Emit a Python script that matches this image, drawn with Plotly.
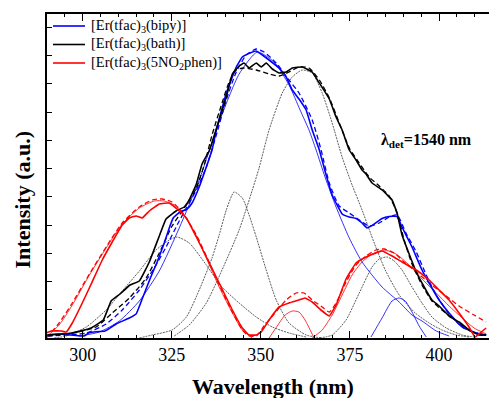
import plotly.graph_objects as go

# ---------------- data (wavelength in nm, intensity in a.u.) ----------------
# [Er(tfac)3(bipy)] - experimental
bipy_x = [290.1, 293.4, 300.4, 301.9, 306.3, 309.4, 313.1, 315.0, 316.7, 319.0, 320.9, 322.9, 324.3, 325.4,
          327.1, 329.3, 330.7, 332.7, 334.7, 336.3, 337.5, 340.3, 343.1, 344.8, 347.3, 348.7, 350.4, 352.3,
          355.1, 357.1, 358.8, 360.7, 362.7, 364.4, 366.4, 368.3, 370.0, 371.1, 372.8, 374.8, 376.7, 378.4,
          379.8, 381.8, 384.0, 386.0, 388.2, 389.6, 392.4, 395.2, 397.2, 400.0, 402.8, 406.5, 410.4, 413.2]
bipy_y = [3, 4, 2, 5.5, 7, 14, 20, 24, 39, 60, 76, 95, 110, 120,
          125.5, 129, 135, 151, 171, 188, 208, 245, 271, 281, 285.5, 287, 283, 278,
          270, 261, 248, 239, 228, 208, 188, 163, 143, 135, 124, 121, 119.5, 115,
          110, 114, 119.5, 121.5, 121.5, 111, 91, 68, 55, 38, 25, 11, 5, 3]
# bipy - fit
bipy_fit_x = [290.1, 301.0, 306.6, 311.1, 315.9, 320.1, 323.4, 327.1, 329.1, 331.9, 334.7, 337.5, 340.3, 343.1,
              345.9, 348.7, 350.9, 354.3, 357.9, 360.7, 364.4, 366.9, 369.2, 372.0, 374.8, 377.6, 380.4, 383.2,
              386.0, 388.2, 390.7, 393.6, 396.4, 399.2, 402.8, 406.5, 410.4, 413.2]
bipy_fit_y = [2, 5, 14, 28, 48, 70, 91, 117, 130, 148, 171, 203, 238, 266,
              283, 289, 286, 275, 258, 245, 218, 188, 155, 132, 125, 118, 112, 115,
              121, 123, 105, 86, 63, 43, 24, 11, 5, 3]
# bipy - components
bipy_c1_x = [299.0, 304.7, 310.3, 315.9, 321.5, 327.1, 332.7, 338.3, 343.9, 349.0, 353.7, 357.9, 361.0, 363.5,
             365.5, 368.0, 371.1, 374.8, 378.4, 384.0, 388.8, 392.4, 395.2, 399.2, 402.8]
bipy_c1_y = [2, 6, 17, 37, 67, 110, 158, 216, 264, 286, 276, 253, 228, 208,
             188, 161, 131, 100, 76, 51, 36, 23, 17, 7, 2]
bipy_c2_x = [380.9, 384.0, 386.8, 388.8, 390.5, 392.4, 394.4, 396.4]
bipy_c2_y = [1, 20, 37, 40, 37, 26, 12, 1]

# [Er(tfac)3(bath)] - experimental
bath_x = [290.1, 297.1, 302.4, 305.8, 308.0, 310.5, 313.3, 315.9, 318.7, 321.5, 323.4, 326.2, 328.5, 329.9,
          331.9, 333.5, 335.5, 338.3, 340.3, 342.0, 343.9, 345.3, 346.7, 348.7, 350.1, 351.5, 353.2, 355.1,
          357.1, 358.8, 361.6, 364.4, 366.4, 369.2, 371.1, 372.8, 374.8, 376.7, 378.4, 379.5, 381.2, 384.0,
          386.8, 388.2, 389.6, 391.6, 393.6, 395.2, 398.0, 400.0, 402.8, 405.6, 408.4, 411.2, 413.2]
bath_y = [3, 5, 10, 18, 37, 44, 53, 57, 76, 102, 119, 127, 131, 138,
          154, 174, 187, 218, 241, 264, 272, 275, 270, 275, 271, 275, 269, 265,
          266, 270, 271, 266, 255, 239, 221, 208, 188, 178, 168, 164, 155, 148,
          138, 125, 103, 84, 66, 55, 38, 32, 22, 16, 8, 3, 3]
# bath - fit
bath_fit_x = [290.1, 297.1, 303.8, 308.3, 313.1, 317.8, 321.5, 325.1, 328.5, 331.9, 334.1, 336.3, 339.1, 341.1,
              343.1, 345.3, 348.7, 352.3, 355.1, 357.9, 360.7, 363.5, 366.4, 369.2, 372.0, 374.8, 377.6, 380.4,
              383.2, 386.0, 388.2, 390.2, 392.4, 395.2, 398.0, 400.8, 403.7, 407.0, 410.4, 413.2]
bath_fit_y = [2, 5, 11, 25, 40, 60, 85, 112, 130, 150, 173, 203, 235, 256,
              268, 270, 268, 264, 262, 266, 271, 270, 258, 240, 215, 190, 175, 161,
              152, 142, 125, 98, 74, 53, 37, 28, 20, 11, 5, 3]
# bath - components
bath_c1_x = [292.0, 295.4, 301.0, 306.6, 311.1, 315.9, 320.6, 324.3, 326.5, 329.9, 334.7, 339.1, 343.9, 348.7,
             353.2, 357.9, 362.7]
bath_c1_y = [0, 2, 11, 28, 47, 67, 88, 98, 101, 95, 73, 51, 35, 21, 11, 5, 1]
bath_c2_x = [315.9, 319.5, 325.1, 329.1, 332.7, 336.3, 338.3, 340.3, 342.5, 344.8, 346.7, 348.7, 351.5, 354.3,
             357.9, 362.7, 367.2]
bath_c2_y = [0, 3, 8, 21, 48, 80, 103, 128, 146, 140, 123, 101, 68, 38, 15, 3, 0]
bath_c3_x = [325.7, 329.9, 334.7, 339.1, 343.9, 347.6, 349.5, 352.3, 356.0, 358.8, 361.6, 364.4, 367.2, 370.0,
             372.8, 375.6, 378.4, 381.8, 384.9, 388.8, 393.3, 397.2, 400.8, 404.8, 408.4]
bath_c3_y = [2, 13, 35, 68, 108, 148, 170, 208, 245, 261, 268, 265, 245, 215,
             181, 153, 128, 95, 68, 43, 25, 15, 8, 3, 1]
bath_c4_x = [366.4, 370.0, 373.9, 377.6, 381.2, 383.2, 385.4, 387.4, 389.6, 392.4, 395.2, 398.0, 402.0, 406.5,
             409.8]
bath_c4_y = [0, 3, 18, 45, 71, 79, 81, 77, 68, 51, 35, 21, 10, 3, 1]

# [Er(tfac)3(5NO2phen)] - experimental
phen_x = [289.8, 291.2, 294.0, 295.4, 297.1, 299.9, 302.4, 305.5, 308.3, 311.1, 313.1, 315.0, 316.7, 318.7,
          321.5, 324.3, 327.1, 329.1, 331.9, 334.7, 338.3, 342.0, 344.8, 346.7, 348.7, 350.1, 352.3, 355.1,
          357.9, 360.7, 362.4, 364.4, 367.2, 369.2, 371.1, 373.9, 376.7, 379.5, 382.3, 384.0, 386.8, 389.6,
          393.6, 397.2, 400.0, 402.8, 405.6, 408.4, 410.1, 411.5, 413.2]
phen_y = [5, 7, 7, 6, 15, 35, 54, 78, 96, 113, 120, 122, 120, 127,
          134, 135, 127, 120, 101, 81, 55, 28, 10, 3, 3, 6, 18, 31,
          35, 38, 40, 36, 27, 22, 33, 59, 75, 81, 85, 87, 82, 76,
          68, 58, 48, 38, 25, 11, 1, 5, 10]
# 5NO2phen - fit
phen_fit_x = [289.8, 293.4, 297.1, 301.9, 306.6, 311.1, 315.9, 319.5, 322.3, 325.1, 327.9, 331.9, 334.7, 338.3,
              342.0, 344.8, 346.7, 348.7, 350.9, 353.7, 357.1, 359.9, 362.1, 364.4, 367.2, 369.2, 371.1, 373.9,
              376.7, 379.5, 382.3, 384.6, 387.4, 390.2, 393.6, 397.2, 402.0, 405.6, 409.8, 413.2]
phen_fit_y = [0, 15, 35, 64, 91, 115, 131, 138, 139, 136, 126, 103, 82, 53,
              26, 8, 2, 2, 12, 24, 38, 45, 45, 38, 31, 26, 35, 56,
              73, 82, 88, 89, 85, 76, 66, 55, 42, 32, 23, 16]
# 5NO2phen - components
phen_c1_x = [289.8, 293.4, 297.1, 301.9, 306.6, 311.1, 315.9, 320.1, 322.9, 325.7, 328.5, 331.9, 334.7, 338.3,
             342.0, 344.8, 347.6]
phen_c1_y = [1, 13, 33, 63, 90, 114, 130, 137, 137, 133, 123, 102, 80, 51, 25, 8, 0]
phen_c2_x = [352.3, 354.6, 356.8, 358.8, 360.7, 362.4, 364.1, 364.9]
phen_c2_y = [0, 12, 23, 27, 26, 18, 6, 0]
phen_c3_x = [364.4, 367.2, 370.0, 372.8, 375.6, 378.4, 381.2, 384.6, 387.9, 391.6, 395.2, 399.2, 402.8, 406.5,
             409.8, 413.2]
phen_c3_y = [0, 8, 23, 43, 63, 76, 84, 88, 84, 73, 59, 45, 32, 20, 10, 4]

x_tick_vals = [300, 325, 350, 375, 400]
x_tick_text = ["300", "325", "350", "375", "400"]
legend_names = ["[Er(tfac)<sub>3</sub>(bipy)]", "[Er(tfac)<sub>3</sub>(bath)]",
                "[Er(tfac)<sub>3</sub>(5NO<sub>2</sub>phen)]"]

BLUE, BLACK, RED = "#0000FF", "#000000", "#FF0000"
FONT = "Liberation Serif, Times New Roman, serif"

fig = go.Figure()

def comp(x, y, color, dash):
    fig.add_trace(go.Scatter(x=x, y=y, mode="lines", showlegend=False, hoverinfo="skip",
                             line=dict(color=color, width=0.8, dash=dash, shape="spline", smoothing=0.6)))

def fit(x, y, color):
    fig.add_trace(go.Scatter(x=x, y=y, mode="lines", showlegend=False, hoverinfo="skip",
                             line=dict(color=color, width=1.3, dash="5px,3px", shape="spline", smoothing=0.6)))

# components
comp(bipy_c1_x, bipy_c1_y, BLUE, "solid")
comp(bipy_c2_x, bipy_c2_y, BLUE, "solid")
for cx, cy in [(bath_c1_x, bath_c1_y), (bath_c2_x, bath_c2_y), (bath_c3_x, bath_c3_y), (bath_c4_x, bath_c4_y)]:
    comp(cx, cy, "#333333", "2px,1px")
comp(phen_c1_x, phen_c1_y, RED, "solid")
comp(phen_c2_x, phen_c2_y, RED, "solid")
comp(phen_c3_x, phen_c3_y, RED, "solid")

# fits
fit(bipy_fit_x, bipy_fit_y, BLUE)
fit(bath_fit_x, bath_fit_y, BLACK)
fit(phen_fit_x, phen_fit_y, RED)

# experimental
series_colors = [BLUE, BLACK, RED]
for x, y, c, n in [(bipy_x, bipy_y, BLUE, legend_names[0]),
                   (bath_x, bath_y, BLACK, legend_names[1]),
                   (phen_x, phen_y, RED, legend_names[2])]:
    fig.add_trace(go.Scatter(x=x, y=y, mode="lines", name=n, showlegend=False,
                             line=dict(color=c, width=1.6, shape="spline", smoothing=0.3)))

# legend drawn in paper coordinates (line sample + label)
PLOT_L, PLOT_W, PLOT_B, PLOT_H = 47, 442, 338, 324
legend_rows_px = [26, 44.5, 63]
shapes, annotations = [], []
for name, col, ypx in zip(legend_names, series_colors, legend_rows_px):
    yp = (PLOT_B - ypx) / PLOT_H
    shapes.append(dict(type="line", xref="paper", yref="paper",
                       x0=(53 - PLOT_L) / PLOT_W, x1=(85 - PLOT_L) / PLOT_W, y0=yp, y1=yp,
                       line=dict(color=col, width=1.6)))
    annotations.append(dict(x=(89 - PLOT_L) / PLOT_W, y=yp, xref="paper", yref="paper",
                            xanchor="left", yanchor="middle", text=name, showarrow=False,
                            font=dict(family=FONT, size=14.5, color="black")))

annotations += [
    dict(x=383.2, y=198, xref="x", yref="y", xanchor="left", yanchor="middle",
         text="<b>λ<sub>det</sub>=1540 nm</b>", showarrow=False,
         font=dict(family=FONT, size=16, color="black")),
    dict(x=(273 - 47) / 442, y=-0.151, xref="paper", yref="paper", xanchor="center", yanchor="middle",
         text="<b>Wavelength (nm)</b>", showarrow=False,
         font=dict(family=FONT, size=22, color="black")),
    dict(x=-0.0554, y=0.426, xref="paper", yref="paper", xanchor="center", yanchor="middle",
         text="<b>Intensity (a.u.)</b>", showarrow=False, textangle=-90,
         font=dict(family=FONT, size=22, color="black")),
]

fig.update_layout(
    width=491, height=398,
    margin=dict(l=47, r=2, t=14, b=60),
    paper_bgcolor="white", plot_bgcolor="white",
    font=dict(family=FONT, color="black"),
    showlegend=False,
    shapes=shapes,
    annotations=annotations,
)

fig.update_xaxes(range=[290, 414], showgrid=False, zeroline=False,
                 showline=True, linecolor="black", linewidth=1.5, mirror="allticks",
                 ticks="inside", ticklen=7, tickwidth=1.2, tickcolor="black",
                 tickvals=x_tick_vals, ticktext=x_tick_text,
                 tickfont=dict(family=FONT, size=18, color="black"),
                 minor=dict(dtick=5, tick0=300, ticks="inside", ticklen=3.5, tickwidth=1, tickcolor="black"))
fig.update_yaxes(range=[0, 324], showgrid=False, zeroline=False,
                 showline=True, linecolor="black", linewidth=1.5, mirror=False,
                 ticks="inside", ticklen=5, tickwidth=1, tickcolor="black",
                 tick0=0, dtick=28.25, showticklabels=False)

fig.write_html("out.html")
